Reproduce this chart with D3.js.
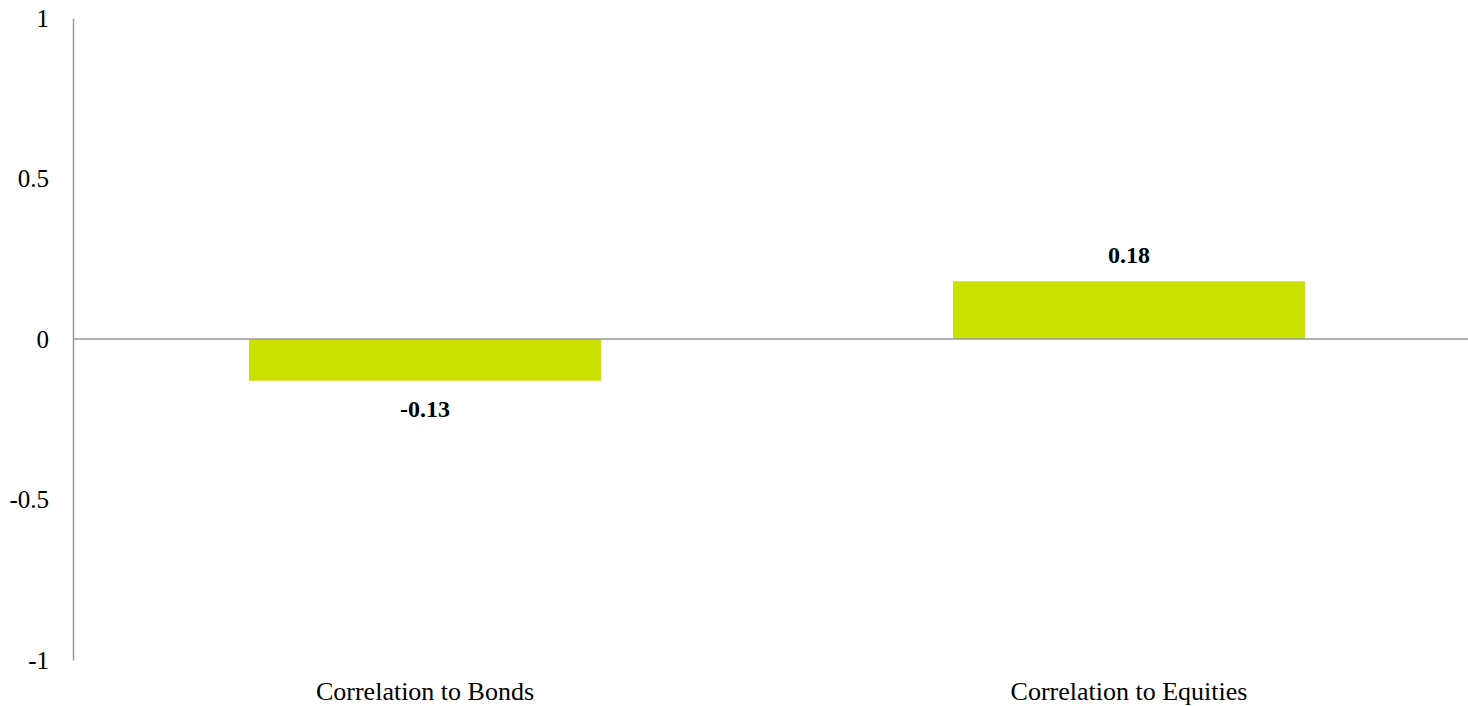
<!DOCTYPE html>
<html>
<head>
<meta charset="utf-8">
<script src="https://cdn.jsdelivr.net/npm/d3@7"></script>
<style>
  body { margin: 0; background: #fff; }
  text { font-family: "Liberation Serif", serif; fill: #000; }
</style>
</head>
<body>
<div id="chart"></div>
<script>
  // chart data
  const categories = ["Correlation to Bonds", "Correlation to Equities"];
  const values = [-0.13, 0.18];
  const valueLabels = ["-0.13", "0.18"];
  const yTicks = [-1, -0.5, 0, 0.5, 1];

  // chart settings
  const svg_width = 1468;
  const svg_height = 706;
  const plot = { left: 73, right: 1481, top: 18, bottom: 660 };

  const x = d3.scaleBand()
    .domain(categories)
    .range([plot.left, plot.right])
    .paddingInner(0.5)
    .paddingOuter(0.25);
  const y = d3.scaleLinear()
    .domain([-1, 1])
    .range([plot.bottom, plot.top]);

  const svg = d3.select("#chart").append("svg")
    .attr("width", svg_width)
    .attr("height", svg_height);

  // bars
  svg.selectAll(".bar")
    .data(values)
    .enter().append("rect")
    .attr("class", "bar")
    .attr("x", (d, i) => x(categories[i]))
    .attr("y", d => y(Math.max(0, d)))
    .attr("width", x.bandwidth())
    .attr("height", d => Math.abs(y(d) - y(0)))
    .attr("fill", "#cbdf00");

  // zero line
  svg.append("line")
    .attr("x1", plot.left).attr("x2", svg_width)
    .attr("y1", y(0)).attr("y2", y(0))
    .attr("stroke", "#999").attr("stroke-width", 1.5);

  // y axis
  const yAxis = svg.append("g")
    .attr("transform", "translate(" + plot.left + ",0)")
    .call(d3.axisLeft(y).tickValues(yTicks).tickSize(0).tickPadding(24)
      .tickFormat(d => String(d)));
  yAxis.select(".domain").attr("stroke", "#999").attr("stroke-width", 1.5);
  yAxis.selectAll("text")
    .style("font-family", "Liberation Serif, serif")
    .style("font-size", "25px")
    .attr("fill", "#000");

  // category labels
  svg.selectAll(".cat")
    .data(categories)
    .enter().append("text")
    .attr("class", "cat")
    .attr("x", d => x(d) + x.bandwidth() / 2)
    .attr("y", 700)
    .attr("text-anchor", "middle")
    .style("font-size", "26px")
    .text(d => d);

  // value labels
  svg.selectAll(".val")
    .data(values)
    .enter().append("text")
    .attr("class", "val")
    .attr("x", (d, i) => x(categories[i]) + x.bandwidth() / 2)
    .attr("y", d => d >= 0 ? y(d) - 18 : y(d) + 36)
    .attr("text-anchor", "middle")
    .style("font-size", "24px")
    .style("font-weight", "bold")
    .text((d, i) => valueLabels[i]);
</script>
</body>
</html>
